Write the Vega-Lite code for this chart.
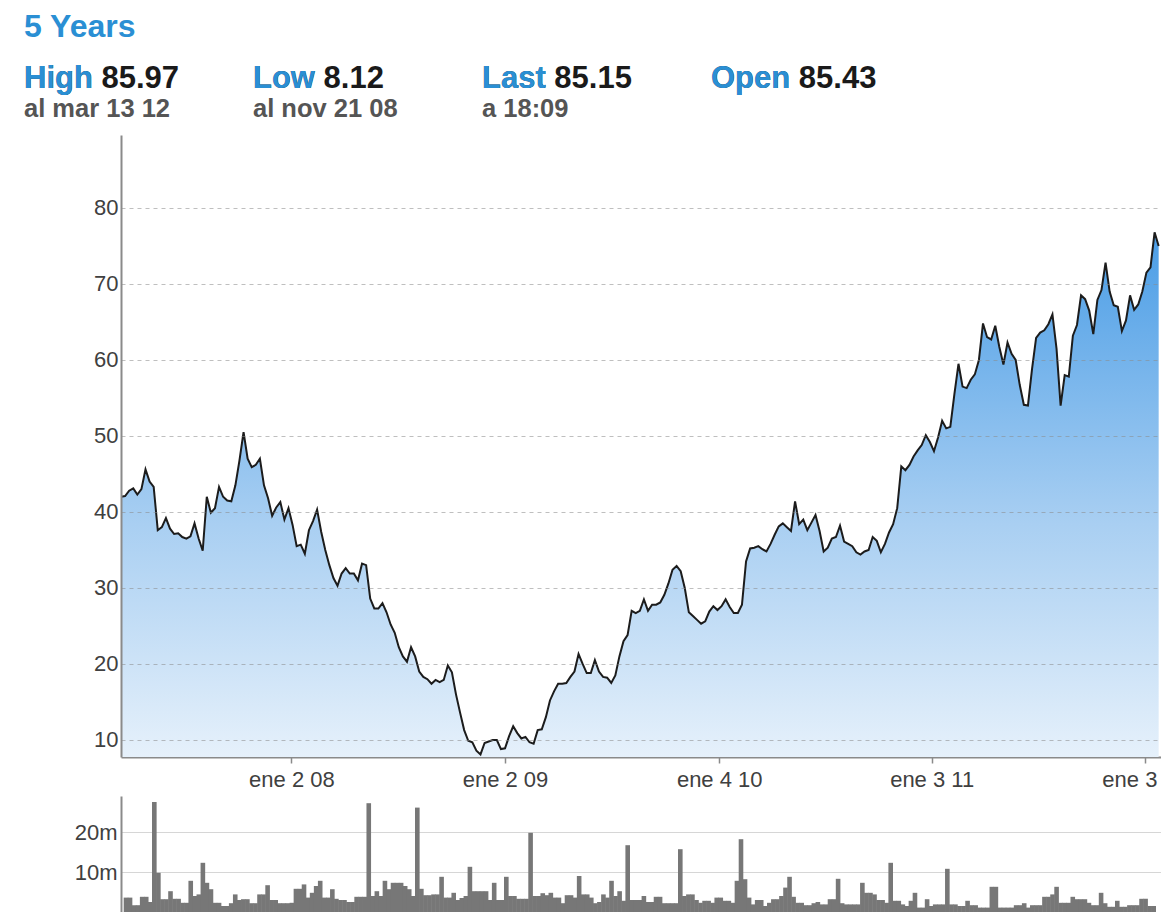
{
  "$schema": "https://vega.github.io/schema/vega-lite/v6.json",
  "padding": {"left": 24, "top": 0, "right": 0, "bottom": 0},
  "spacing": 6,
  "config": {"view": {"stroke": null}, "font": "Liberation Sans"},
  "datasets": {
    "w": [
      {"d":"2007-03-16","p":42.0,"v":3.6},{"d":"2007-03-23","p":42.1,"v":3.6},{"d":"2007-03-30","p":42.8,"v":1.7},
      {"d":"2007-04-06","p":43.1,"v":1.7},{"d":"2007-04-13","p":42.3,"v":3.8},{"d":"2007-04-20","p":43.0,"v":3.8},{"d":"2007-04-27","p":45.6,"v":2.5},
      {"d":"2007-05-04","p":44.0,"v":27.5},{"d":"2007-05-11","p":43.3,"v":9.8},{"d":"2007-05-18","p":37.6,"v":3.2},{"d":"2007-05-25","p":38.0,"v":3.2},
      {"d":"2007-06-01","p":39.2,"v":5.2},{"d":"2007-06-08","p":37.8,"v":3.3},{"d":"2007-06-15","p":37.1,"v":3.3},{"d":"2007-06-22","p":37.2,"v":2.3},{"d":"2007-06-29","p":36.7,"v":2.3},
      {"d":"2007-07-06","p":36.5,"v":7.8},{"d":"2007-07-13","p":36.8,"v":4.0},{"d":"2007-07-20","p":38.5,"v":4.4},{"d":"2007-07-27","p":36.5,"v":12.3},
      {"d":"2007-08-03","p":34.9,"v":7.3},{"d":"2007-08-10","p":42.0,"v":5.7},{"d":"2007-08-17","p":39.9,"v":2.3},{"d":"2007-08-24","p":40.5,"v":2.3},{"d":"2007-08-31","p":43.3,"v":1.5},
      {"d":"2007-09-07","p":42.0,"v":1.5},{"d":"2007-09-14","p":41.5,"v":2.2},{"d":"2007-09-21","p":41.4,"v":4.4},{"d":"2007-09-28","p":43.5,"v":3.0},
      {"d":"2007-10-05","p":46.8,"v":3.2},{"d":"2007-10-12","p":50.5,"v":3.2},{"d":"2007-10-19","p":47.0,"v":2.2},{"d":"2007-10-26","p":45.9,"v":2.2},
      {"d":"2007-11-02","p":46.2,"v":4.4},{"d":"2007-11-09","p":47.0,"v":4.4},{"d":"2007-11-16","p":43.5,"v":6.7},{"d":"2007-11-23","p":41.8,"v":3.0},{"d":"2007-11-30","p":39.5,"v":3.0},
      {"d":"2007-12-07","p":40.6,"v":2.2},{"d":"2007-12-14","p":41.3,"v":2.2},{"d":"2007-12-21","p":39.0,"v":2.2},{"d":"2007-12-28","p":40.5,"v":2.3},
      {"d":"2008-01-04","p":38.3,"v":5.8},{"d":"2008-01-11","p":35.5,"v":5.8},{"d":"2008-01-18","p":35.7,"v":6.9},{"d":"2008-01-25","p":34.5,"v":3.6},
      {"d":"2008-02-01","p":37.6,"v":4.8},{"d":"2008-02-08","p":38.8,"v":6.5},{"d":"2008-02-15","p":40.3,"v":7.8},{"d":"2008-02-22","p":37.4,"v":3.6},{"d":"2008-02-29","p":35.0,"v":3.6},
      {"d":"2008-03-07","p":33.0,"v":5.7},{"d":"2008-03-14","p":31.3,"v":3.3},{"d":"2008-03-21","p":30.3,"v":3.0},{"d":"2008-03-28","p":31.9,"v":3.0},
      {"d":"2008-04-04","p":32.6,"v":2.5},{"d":"2008-04-11","p":31.9,"v":2.5},{"d":"2008-04-18","p":31.9,"v":3.8},{"d":"2008-04-25","p":31.0,"v":3.8},
      {"d":"2008-05-02","p":33.2,"v":3.8},{"d":"2008-05-09","p":33.0,"v":27.2},{"d":"2008-05-16","p":28.6,"v":4.0},{"d":"2008-05-23","p":27.3,"v":5.2},{"d":"2008-05-30","p":27.3,"v":4.0},
      {"d":"2008-06-06","p":28.0,"v":7.8},{"d":"2008-06-13","p":26.8,"v":5.7},{"d":"2008-06-20","p":25.2,"v":7.3},{"d":"2008-06-27","p":24.1,"v":7.3},
      {"d":"2008-07-04","p":22.2,"v":7.3},{"d":"2008-07-11","p":21.0,"v":6.5},{"d":"2008-07-18","p":20.3,"v":5.7},{"d":"2008-07-25","p":22.2,"v":4.0},
      {"d":"2008-08-01","p":21.0,"v":26.1},{"d":"2008-08-08","p":19.0,"v":5.8},{"d":"2008-08-15","p":18.3,"v":4.2},{"d":"2008-08-22","p":18.0,"v":4.2},{"d":"2008-08-29","p":17.4,"v":4.4},
      {"d":"2008-09-05","p":17.9,"v":4.4},{"d":"2008-09-12","p":17.6,"v":8.8},{"d":"2008-09-19","p":17.9,"v":3.6},{"d":"2008-09-26","p":19.8,"v":3.6},
      {"d":"2008-10-03","p":18.9,"v":4.8},{"d":"2008-10-10","p":16.0,"v":3.0},{"d":"2008-10-17","p":13.6,"v":3.5},{"d":"2008-10-24","p":11.3,"v":4.0},{"d":"2008-10-31","p":9.9,"v":11.3},
      {"d":"2008-11-07","p":9.7,"v":5.2},{"d":"2008-11-14","p":8.6,"v":5.2},{"d":"2008-11-21","p":8.1,"v":5.2},{"d":"2008-11-28","p":9.6,"v":5.2},
      {"d":"2008-12-05","p":9.8,"v":3.0},{"d":"2008-12-12","p":10.0,"v":7.3},{"d":"2008-12-19","p":10.0,"v":3.0},{"d":"2008-12-26","p":8.8,"v":3.0},
      {"d":"2009-01-02","p":8.9,"v":8.8},{"d":"2009-01-09","p":10.5,"v":4.0},{"d":"2009-01-16","p":11.8,"v":4.0},{"d":"2009-01-23","p":10.9,"v":3.3},{"d":"2009-01-30","p":10.2,"v":3.3},
      {"d":"2009-02-06","p":10.4,"v":3.3},{"d":"2009-02-13","p":9.7,"v":19.8},{"d":"2009-02-20","p":9.5,"v":4.0},{"d":"2009-02-27","p":11.3,"v":4.0},
      {"d":"2009-03-06","p":11.4,"v":4.7},{"d":"2009-03-13","p":13.0,"v":4.2},{"d":"2009-03-20","p":15.2,"v":4.8},{"d":"2009-03-27","p":16.4,"v":3.6},
      {"d":"2009-04-03","p":17.4,"v":3.6},{"d":"2009-04-10","p":17.4,"v":2.2},{"d":"2009-04-17","p":17.5,"v":4.2},{"d":"2009-04-24","p":18.3,"v":4.2},
      {"d":"2009-05-01","p":19.0,"v":3.6},{"d":"2009-05-08","p":21.3,"v":9.0},{"d":"2009-05-15","p":20.0,"v":4.4},{"d":"2009-05-22","p":18.8,"v":4.4},{"d":"2009-05-29","p":18.8,"v":3.6},
      {"d":"2009-06-05","p":20.5,"v":2.2},{"d":"2009-06-12","p":19.0,"v":2.5},{"d":"2009-06-19","p":18.3,"v":4.4},{"d":"2009-06-26","p":18.2,"v":3.6},
      {"d":"2009-07-03","p":17.5,"v":7.8},{"d":"2009-07-10","p":18.5,"v":4.0},{"d":"2009-07-17","p":21.0,"v":5.2},{"d":"2009-07-24","p":23.0,"v":2.8},{"d":"2009-07-31","p":23.8,"v":16.7},
      {"d":"2009-08-07","p":27.0,"v":3.0},{"d":"2009-08-14","p":26.7,"v":3.0},{"d":"2009-08-21","p":27.0,"v":3.0},{"d":"2009-08-28","p":28.5,"v":4.0},
      {"d":"2009-09-04","p":27.0,"v":2.5},{"d":"2009-09-11","p":27.8,"v":2.5},{"d":"2009-09-18","p":27.8,"v":3.8},{"d":"2009-09-25","p":28.1,"v":3.8},
      {"d":"2009-10-02","p":29.1,"v":2.2},{"d":"2009-10-09","p":30.6,"v":2.2},{"d":"2009-10-16","p":32.4,"v":2.2},{"d":"2009-10-23","p":32.9,"v":2.2},{"d":"2009-10-30","p":32.2,"v":15.7},
      {"d":"2009-11-06","p":30.0,"v":4.0},{"d":"2009-11-13","p":26.8,"v":4.4},{"d":"2009-11-20","p":26.3,"v":4.4},{"d":"2009-11-27","p":25.8,"v":3.0},
      {"d":"2009-12-04","p":25.3,"v":2.3},{"d":"2009-12-11","p":25.6,"v":2.8},{"d":"2009-12-18","p":26.9,"v":2.8},{"d":"2009-12-25","p":27.6,"v":2.3},
      {"d":"2010-01-01","p":27.1,"v":3.6},{"d":"2010-01-08","p":27.6,"v":3.6},{"d":"2010-01-15","p":28.5,"v":2.8},{"d":"2010-01-22","p":27.5,"v":2.8},{"d":"2010-01-29","p":26.7,"v":2.3},
      {"d":"2010-02-05","p":26.7,"v":7.8},{"d":"2010-02-12","p":27.8,"v":18.2},{"d":"2010-02-19","p":33.5,"v":8.2},{"d":"2010-02-26","p":35.2,"v":3.6},
      {"d":"2010-03-05","p":35.3,"v":1.9},{"d":"2010-03-12","p":35.5,"v":3.0},{"d":"2010-03-19","p":35.1,"v":3.0},{"d":"2010-03-26","p":34.8,"v":1.5},
      {"d":"2010-04-02","p":35.8,"v":2.3},{"d":"2010-04-09","p":37.0,"v":3.2},{"d":"2010-04-16","p":38.1,"v":3.2},{"d":"2010-04-23","p":38.5,"v":4.0},{"d":"2010-04-30","p":38.0,"v":6.1},
      {"d":"2010-05-07","p":37.5,"v":8.8},{"d":"2010-05-14","p":41.4,"v":3.8},{"d":"2010-05-21","p":38.4,"v":2.3},{"d":"2010-05-28","p":39.0,"v":2.3},
      {"d":"2010-06-04","p":37.6,"v":1.7},{"d":"2010-06-11","p":38.6,"v":1.7},{"d":"2010-06-18","p":39.6,"v":2.2},{"d":"2010-06-25","p":37.5,"v":2.5},
      {"d":"2010-07-02","p":34.8,"v":1.9},{"d":"2010-07-09","p":35.3,"v":1.9},{"d":"2010-07-16","p":36.5,"v":3.2},{"d":"2010-07-23","p":36.7,"v":3.2},{"d":"2010-07-30","p":38.2,"v":8.3},
      {"d":"2010-08-06","p":36.1,"v":2.2},{"d":"2010-08-13","p":35.8,"v":1.9},{"d":"2010-08-20","p":35.5,"v":1.9},{"d":"2010-08-27","p":34.7,"v":1.9},
      {"d":"2010-09-03","p":34.4,"v":1.9},{"d":"2010-09-10","p":34.8,"v":7.3},{"d":"2010-09-17","p":35.0,"v":4.8},{"d":"2010-09-24","p":36.7,"v":4.8},
      {"d":"2010-10-01","p":36.2,"v":4.4},{"d":"2010-10-08","p":34.7,"v":3.0},{"d":"2010-10-15","p":35.8,"v":3.0},{"d":"2010-10-22","p":37.3,"v":2.3},{"d":"2010-10-29","p":38.4,"v":12.3},
      {"d":"2010-11-05","p":40.5,"v":2.8},{"d":"2010-11-12","p":46.0,"v":2.8},{"d":"2010-11-19","p":45.5,"v":1.9},{"d":"2010-11-26","p":46.2,"v":1.5},
      {"d":"2010-12-03","p":47.3,"v":2.8},{"d":"2010-12-10","p":48.1,"v":4.8},{"d":"2010-12-17","p":48.8,"v":1.1},{"d":"2010-12-24","p":50.1,"v":1.1},{"d":"2010-12-31","p":49.2,"v":3.2},
      {"d":"2011-01-07","p":48.0,"v":1.5},{"d":"2011-01-14","p":49.8,"v":1.9},{"d":"2011-01-21","p":52.0,"v":1.9},{"d":"2011-01-28","p":51.0,"v":1.9},
      {"d":"2011-02-04","p":51.2,"v":10.8},{"d":"2011-02-11","p":55.5,"v":1.9},{"d":"2011-02-18","p":59.5,"v":1.9},{"d":"2011-02-25","p":56.5,"v":1.5},
      {"d":"2011-03-04","p":56.3,"v":1.5},{"d":"2011-03-11","p":57.4,"v":2.8},{"d":"2011-03-18","p":58.1,"v":1.7},{"d":"2011-03-25","p":60.0,"v":1.7},
      {"d":"2011-04-01","p":64.8,"v":1.1},{"d":"2011-04-08","p":63.0,"v":1.1},{"d":"2011-04-15","p":62.7,"v":1.1},{"d":"2011-04-22","p":64.5,"v":6.3},{"d":"2011-04-29","p":61.7,"v":6.3},
      {"d":"2011-05-06","p":59.4,"v":1.1},{"d":"2011-05-13","p":62.3,"v":1.1},{"d":"2011-05-20","p":60.8,"v":1.1},{"d":"2011-05-27","p":60.0,"v":1.1},
      {"d":"2011-06-03","p":56.7,"v":1.7},{"d":"2011-06-10","p":54.1,"v":1.7},{"d":"2011-06-17","p":54.0,"v":2.2},{"d":"2011-06-24","p":58.8,"v":1.1},
      {"d":"2011-07-01","p":62.9,"v":1.7},{"d":"2011-07-08","p":63.6,"v":1.7},{"d":"2011-07-15","p":63.9,"v":1.7},{"d":"2011-07-22","p":64.7,"v":3.8},{"d":"2011-07-29","p":66.0,"v":3.8},
      {"d":"2011-08-05","p":61.5,"v":4.4},{"d":"2011-08-12","p":54.0,"v":6.3},{"d":"2011-08-19","p":58.0,"v":2.3},{"d":"2011-08-26","p":57.8,"v":2.3},
      {"d":"2011-09-02","p":63.2,"v":2.3},{"d":"2011-09-09","p":64.6,"v":3.8},{"d":"2011-09-16","p":68.5,"v":3.2},{"d":"2011-09-23","p":68.0,"v":3.2},{"d":"2011-09-30","p":66.5,"v":3.2},
      {"d":"2011-10-07","p":63.4,"v":2.3},{"d":"2011-10-14","p":67.9,"v":1.7},{"d":"2011-10-21","p":69.2,"v":1.7},{"d":"2011-10-28","p":72.8,"v":4.8},
      {"d":"2011-11-04","p":69.0,"v":2.2},{"d":"2011-11-11","p":67.2,"v":1.3},{"d":"2011-11-18","p":67.0,"v":1.3},{"d":"2011-11-25","p":63.8,"v":2.8},
      {"d":"2011-12-02","p":65.2,"v":1.3},{"d":"2011-12-09","p":68.5,"v":1.3},{"d":"2011-12-16","p":66.6,"v":1.7},{"d":"2011-12-23","p":67.3,"v":1.7},{"d":"2011-12-30","p":69.0,"v":1.7},
      {"d":"2012-01-06","p":71.5,"v":3.3},{"d":"2012-01-13","p":72.2,"v":3.3},{"d":"2012-01-20","p":76.8,"v":1.5},{"d":"2012-01-27","p":75.0,"v":1.5}
    ],
    "stats": [
      {"i":0,"k":"High","kv":"High 85.97","s":"al mar 13 12"},
      {"i":1,"k":"Low","kv":"Low 8.12","s":"al nov 21 08"},
      {"i":2,"k":"Last","kv":"Last 85.15","s":"a 18:09"},
      {"i":3,"k":"Open","kv":"Open 85.43","s":""}
    ]
  },
  "vconcat": [
    {
      "width": 1040,
      "height": 129,
      "layer": [
        {
          "data": {"values": [{"i": 0, "t": "5 Years"}]},
          "mark": {"type": "text", "align": "left", "baseline": "alphabetic", "dy": -27.5, "fontSize": 32, "fontWeight": "bold", "color": "#2a8fd4"},
          "encoding": {
            "x": {"field": "i", "type": "quantitative", "scale": {"domain": [0, 1], "range": [-97, 132], "nice": false, "zero": false}, "axis": null},
            "text": {"field": "t"}
          }
        },
        {
          "data": {"name": "stats"},
          "mark": {"type": "text", "align": "left", "baseline": "alphabetic", "dy": 23.5, "fontSize": 31, "fontWeight": "bold", "color": "#1a1a1a"},
          "encoding": {
            "x": {"field": "i", "type": "quantitative", "scale": {"domain": [0, 1], "range": [-97, 132], "nice": false, "zero": false}, "axis": null},
            "text": {"field": "kv"}
          }
        },
        {
          "data": {"name": "stats"},
          "mark": {"type": "text", "align": "left", "baseline": "alphabetic", "dy": 23.5, "fontSize": 31, "fontWeight": "bold", "color": "#2a8fd4"},
          "encoding": {
            "x": {"field": "i", "type": "quantitative", "scale": {"domain": [0, 1], "range": [-97, 132], "nice": false, "zero": false}, "axis": null},
            "text": {"field": "k"}
          }
        },
        {
          "data": {"name": "stats"},
          "mark": {"type": "text", "align": "left", "baseline": "alphabetic", "dy": 52.5, "fontSize": 25.5, "fontWeight": "bold", "color": "#555555"},
          "encoding": {
            "x": {"field": "i", "type": "quantitative", "scale": {"domain": [0, 1], "range": [-97, 132], "nice": false, "zero": false}, "axis": null},
            "text": {"field": "s"}
          }
        }
      ]
    },
    {
      "width": 1040,
      "height": 622,
      "data": {"name": "w"},
      "encoding": {
        "x": {
          "field": "d", "type": "temporal",
          "scale": {"type": "utc", "nice": false, "domain": [{"year": 2007, "month": 3, "date": 16, "utc": true}, {"year": 2012, "month": 1, "date": 31, "utc": true}]},
          "axis": {
            "title": null, "grid": false,
            "values": [
              {"year": 2008, "month": 1, "date": 2, "utc": true},
              {"year": 2009, "month": 1, "date": 2, "utc": true},
              {"year": 2010, "month": 1, "date": 4, "utc": true},
              {"year": 2011, "month": 1, "date": 3, "utc": true},
              {"year": 2012, "month": 1, "date": 3, "utc": true}
            ],
            "labelExpr": "'ene ' + utcFormat(datum.value, '%-d %y')",
            "labelFlush": false, "labelOverlap": false, "labelBound": false,
            "domainColor": "#8a8a8a", "domainWidth": 2,
            "tickColor": "#8a8a8a", "tickSize": 6, "tickWidth": 1.5,
            "labelPadding": 6, "labelFontSize": 22, "labelColor": "#404040", "labelFont": "Liberation Sans"
          }
        },
        "y": {
          "field": "p", "type": "quantitative",
          "scale": {"domain": [7.76, 89.6], "zero": false, "nice": false},
          "axis": {
            "title": null, "values": [10, 20, 30, 40, 50, 60, 70, 80],
            "grid": true, "gridDash": [4, 4], "gridColor": "#8a8a8a", "gridOpacity": 0.55, "gridWidth": 1,
            "domainColor": "#8a8a8a", "domainWidth": 2, "ticks": false,
            "labelPadding": 3, "labelFontSize": 22, "labelColor": "#404040", "labelFont": "Liberation Sans",
            "zindex": 1
          }
        }
      },
      "layer": [
        {
          "mark": {
            "type": "area", "clip": true,
            "color": {
              "gradient": "linear", "x1": 0, "y1": 0, "x2": 0, "y2": 1,
              "stops": [
                {"offset": 0, "color": "#4a9de6"},
                {"offset": 0.5, "color": "#a9cff2"},
                {"offset": 1, "color": "#f5f9fd"}
              ]
            }
          }
        },
        {
          "mark": {"type": "line", "clip": true, "color": "#1c1c1c", "strokeWidth": 2}
        }
      ]
    },
    {
      "width": 1040,
      "height": 116,
      "data": {"name": "w"},
      "mark": {"type": "bar", "color": "#777777", "width": 4.6, "clip": true},
      "encoding": {
        "x": {
          "field": "d", "type": "temporal",
          "scale": {"type": "utc", "nice": false, "domain": [{"year": 2007, "month": 3, "date": 16, "utc": true}, {"year": 2012, "month": 1, "date": 31, "utc": true}]},
          "axis": null
        },
        "y": {
          "field": "v", "type": "quantitative",
          "scale": {"domain": [0, 29], "nice": false},
          "axis": {
            "title": null, "values": [10, 20], "labelExpr": "datum.value + 'm'",
            "grid": true, "gridColor": "#d6d6d6", "gridWidth": 1,
            "domainColor": "#8a8a8a", "domainWidth": 2, "ticks": false,
            "labelPadding": 4, "labelFontSize": 22, "labelColor": "#404040", "labelFont": "Liberation Sans"
          }
        }
      }
    }
  ]
}
